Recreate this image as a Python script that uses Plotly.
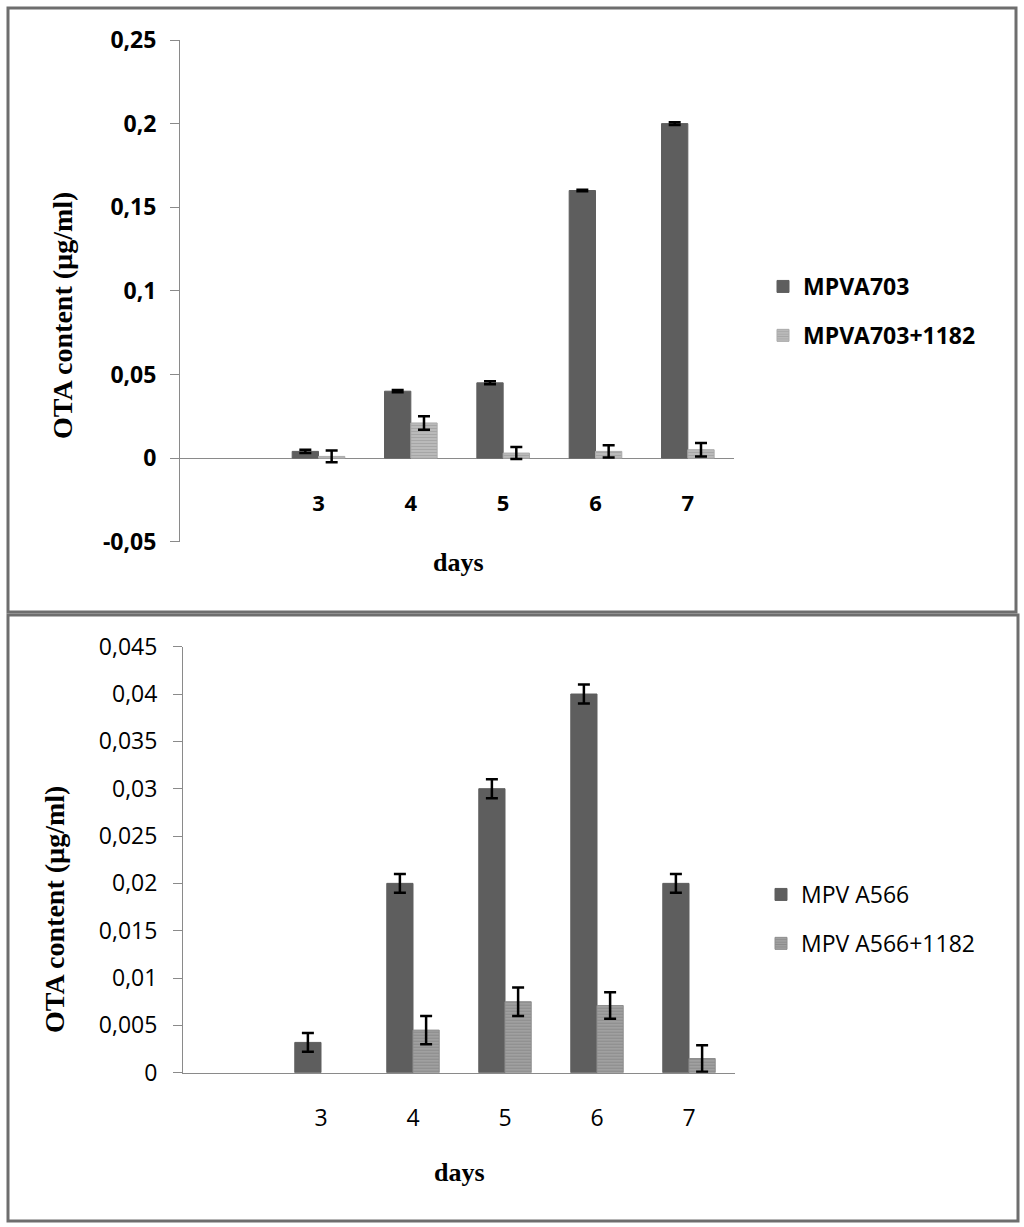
import plotly.graph_objects as go

W, H = 1024, 1227

# ---------------- data ----------------
days = [3, 4, 5, 6, 7]
day_labels = ["3", "4", "5", "6", "7"]

top_names = ["MPVA703", "MPVA703+1182"]
top_a = [0.004, 0.040, 0.045, 0.160, 0.200]
top_a_err = [0.001, 0.0007, 0.0009, 0.0005, 0.0008]
top_b = [0.001, 0.021, 0.003, 0.004, 0.005]
top_b_err = [0.0035, 0.004, 0.0036, 0.0036, 0.004]
top_ticks = [-0.05, 0, 0.05, 0.1, 0.15, 0.2, 0.25]
top_ticktext = ["-0,05", "0", "0,05", "0,1", "0,15", "0,2", "0,25"]

bot_names = ["MPV A566", "MPV A566+1182"]
bot_a = [0.0032, 0.020, 0.030, 0.040, 0.020]
bot_a_err = [0.001, 0.001, 0.001, 0.001, 0.001]
bot_b = [None, 0.0045, 0.0075, 0.0071, 0.0015]
bot_b_err = [0, 0.0015, 0.0015, 0.0014, 0.0014]
bot_ticks = [0, 0.005, 0.01, 0.015, 0.02, 0.025, 0.03, 0.035, 0.04, 0.045]
bot_ticktext = ["0", "0,005", "0,01", "0,015", "0,02", "0,025", "0,03", "0,035", "0,04", "0,045"]

y_title = "OTA content (µg/ml)"
x_title = "days"


def px_x(p):
    return p / W


def px_y(p):
    return 1 - p / H


DARK = "#5e5e5e"
SANS = "Open Sans"
SERIF = "Liberation Serif"

fig = go.Figure()

err_style = dict(type="data", color="black", thickness=2.5, width=6, visible=True)

# top chart
fig.add_trace(go.Bar(
    x=days, y=top_a, name=top_names[0], xaxis="x", yaxis="y",
    marker=dict(color=DARK, line=dict(color=DARK, width=1)),
    error_y=dict(array=top_a_err, **err_style),
    legend="legend", legendgroup="a1",
))
fig.add_trace(go.Bar(
    x=days, y=top_b, name=top_names[1], xaxis="x", yaxis="y",
    marker=dict(color="#b4b4b4", line=dict(color="#ababab", width=1),
                pattern=dict(shape="-", fgcolor="#8f8f8f", bgcolor="#bdbdbd", size=3, solidity=0.45)),
    error_y=dict(array=top_b_err, **err_style),
    legend="legend", legendgroup="b1",
))
# bottom chart
fig.add_trace(go.Bar(
    x=days, y=bot_a, name=bot_names[0], xaxis="x2", yaxis="y2",
    marker=dict(color=DARK, line=dict(color=DARK, width=1)),
    error_y=dict(array=bot_a_err, **err_style),
    legend="legend2", legendgroup="a2",
))
fig.add_trace(go.Bar(
    x=days, y=bot_b, name=bot_names[1], xaxis="x2", yaxis="y2",
    marker=dict(color="#8e8e8e", line=dict(color="#8e8e8e", width=1),
                pattern=dict(shape="-", fgcolor="#727272", bgcolor="#a4a4a4", size=3, solidity=0.45)),
    error_y=dict(array=bot_b_err, **err_style),
    legend="legend2", legendgroup="b2",
))

top_ydom = [px_y(541.7), px_y(40)]
bot_ydom = [px_y(1072.7), px_y(646.7)]
top_rng = [-0.05, 0.25]
zero_pos = top_ydom[0] + (0 - top_rng[0]) / (top_rng[1] - top_rng[0]) * (top_ydom[1] - top_ydom[0])

axis_gray = "#8a8a8a"

fig.update_layout(
    width=W, height=H,
    margin=dict(l=0, r=0, t=0, b=0, pad=0, autoexpand=False),
    paper_bgcolor="white", plot_bgcolor="white",
    barmode="group", bargap=0.43, bargroupgap=0,
    xaxis=dict(domain=[px_x(180), px_x(734)], range=[1.5, 7.5], anchor="free", position=zero_pos,
               tickvals=days, ticktext=day_labels, showline=False, showgrid=False, zeroline=False,
               ticks="", ticklabelstandoff=30, automargin=False,
               tickfont=dict(family=SANS, size=22, color="black", weight="bold")),
    yaxis=dict(domain=top_ydom, range=top_rng, anchor="x",
               tickvals=top_ticks, ticktext=top_ticktext, showgrid=False,
               showline=True, linecolor=axis_gray, linewidth=1, automargin=False,
               ticks="outside", ticklen=9, tickcolor=axis_gray, tickwidth=1, ticklabelstandoff=9,
               zeroline=True, zerolinecolor=axis_gray, zerolinewidth=1,
               tickfont=dict(family=SANS, size=23, color="black", weight="bold")),
    xaxis2=dict(domain=[px_x(183), px_x(735)], range=[1.5, 7.5], anchor="y2",
                tickvals=days, ticktext=day_labels, showline=True, linecolor=axis_gray, linewidth=1,
                showgrid=False, zeroline=False, ticks="", ticklabelstandoff=25, automargin=False,
                tickfont=dict(family=SANS, size=23, color="black")),
    yaxis2=dict(domain=bot_ydom, range=[0, 0.045], anchor="x2",
                tickvals=bot_ticks, ticktext=bot_ticktext, showgrid=False,
                showline=True, linecolor=axis_gray, linewidth=1, automargin=False,
                ticks="outside", ticklen=9, tickcolor=axis_gray, tickwidth=1, ticklabelstandoff=11,
                zeroline=False,
                tickfont=dict(family=SANS, size=23, color="black")),
    legend=dict(x=px_x(763), y=px_y(311), xanchor="left", yanchor="middle",
                font=dict(family=SANS, size=23, color="black", weight="bold"),
                tracegroupgap=16, bgcolor="rgba(0,0,0,0)", traceorder="grouped"),
    legend2=dict(x=px_x(761), y=px_y(919), xanchor="left", yanchor="middle",
                 font=dict(family=SANS, size=23, color="black"),
                 tracegroupgap=16, bgcolor="rgba(0,0,0,0)", traceorder="grouped"),
    showlegend=True,
)

# axis titles
ann = dict(xref="paper", yref="paper", showarrow=False, xanchor="center", yanchor="middle")
fig.add_annotation(text=y_title, x=px_x(62), y=px_y(316), textangle=-90,
                   font=dict(family=SERIF, size=28, color="black", weight="bold"), **ann)
fig.add_annotation(text=y_title, x=px_x(54), y=px_y(910), textangle=-90,
                   font=dict(family=SERIF, size=28, color="black", weight="bold"), **ann)
fig.add_annotation(text=x_title, x=px_x(458), y=px_y(563),
                   font=dict(family=SERIF, size=26, color="black", weight="bold"), **ann)
fig.add_annotation(text=x_title, x=px_x(459), y=px_y(1172),
                   font=dict(family=SERIF, size=26, color="black", weight="bold"), **ann)

# panel frames
frame = dict(type="rect", xref="paper", yref="paper", line=dict(color="#6e6e6e", width=3),
             fillcolor="rgba(0,0,0,0)", layer="above")
fig.add_shape(x0=px_x(8), x1=px_x(1016), y0=px_y(612), y1=px_y(8), **frame)
fig.add_shape(x0=px_x(8), x1=px_x(1018), y0=px_y(1221), y1=px_y(615), **frame)

fig.write_html("out.html", config={"displayModeBar": False},
               post_script="document.body.style.margin='0px';")
